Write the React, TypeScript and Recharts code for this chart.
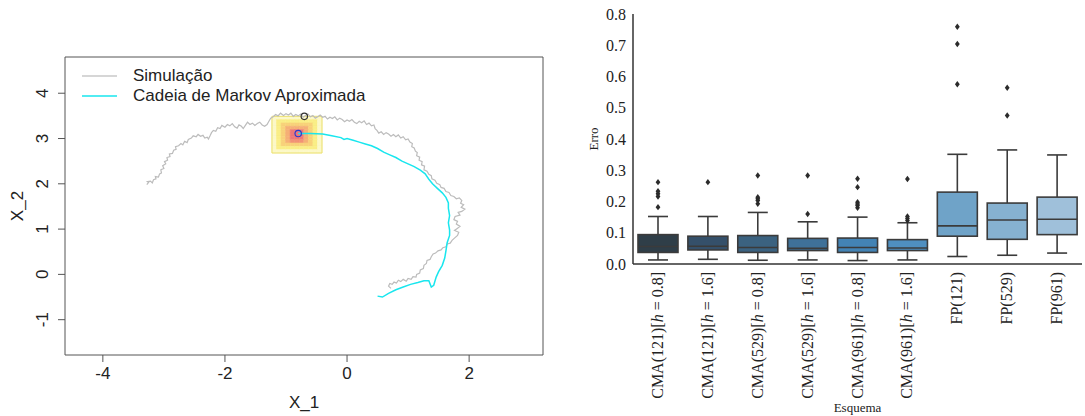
import {
  ScatterChart,
  Scatter,
  ComposedChart,
  Bar,
  Cell,
  XAxis,
  YAxis,
  ReferenceArea,
  ReferenceDot,
  Legend,
} from "recharts";

const SANS = "'Liberation Sans', Arial, sans-serif";
const SERIF = "'Liberation Serif', 'Times New Roman', serif";

// ---------- left panel: trajectories ----------
const X1_TICKS = [-4, -2, 0, 2];
const X2_TICKS = [-1, 0, 1, 2, 3, 4];
const X1_DOMAIN = [-4.62, 3.21];
const X2_DOMAIN = [-1.78, 4.8];

const SIMULATION: [number, number][] = [
  [-3.28, 1.98], [-3.25, 2.03], [-3.27, 2.05], [-3.22, 2.06], [-3.19, 2.02], [-3.17, 2.09],
  [-3.13, 2.11], [-3.14, 2.16], [-3.09, 2.15], [-3.07, 2.22], [-3.04, 2.24], [-3.05, 2.31],
  [-3.0, 2.34], [-3.02, 2.4], [-2.97, 2.44], [-2.99, 2.49], [-2.94, 2.52], [-2.95, 2.58],
  [-2.9, 2.6], [-2.91, 2.66], [-2.86, 2.67], [-2.84, 2.74], [-2.8, 2.76], [-2.81, 2.82],
  [-2.76, 2.84], [-2.72, 2.89], [-2.69, 2.86], [-2.66, 2.94], [-2.62, 2.91], [-2.6, 2.98],
  [-2.55, 3.01], [-2.52, 3.06], [-2.47, 3.04], [-2.44, 3.09], [-2.4, 3.05], [-2.36, 3.07],
  [-2.33, 3.01], [-2.29, 3.03], [-2.27, 2.99], [-2.24, 3.07], [-2.22, 3.13], [-2.19, 3.18],
  [-2.15, 3.16], [-2.12, 3.24], [-2.08, 3.22], [-2.05, 3.29], [-2.0, 3.25], [-1.96, 3.31],
  [-1.92, 3.28], [-1.88, 3.33], [-1.84, 3.26], [-1.8, 3.23], [-1.77, 3.3], [-1.73, 3.27],
  [-1.7, 3.22], [-1.66, 3.3], [-1.63, 3.36], [-1.59, 3.31], [-1.55, 3.34], [-1.51, 3.29],
  [-1.47, 3.33], [-1.43, 3.36], [-1.39, 3.3], [-1.35, 3.27], [-1.31, 3.31], [-1.28, 3.38],
  [-1.25, 3.45], [-1.21, 3.48], [-1.17, 3.53], [-1.13, 3.5], [-1.09, 3.56], [-1.04, 3.51],
  [-1.0, 3.55], [-0.96, 3.52], [-0.92, 3.56], [-0.88, 3.49], [-0.84, 3.53], [-0.8, 3.5],
  [-0.76, 3.54], [-0.72, 3.47], [-0.68, 3.51], [-0.64, 3.54], [-0.6, 3.48], [-0.56, 3.51],
  [-0.52, 3.45], [-0.48, 3.48], [-0.44, 3.52], [-0.4, 3.47], [-0.36, 3.49], [-0.32, 3.43],
  [-0.28, 3.47], [-0.24, 3.44], [-0.2, 3.48], [-0.16, 3.41], [-0.12, 3.45], [-0.08, 3.42],
  [-0.04, 3.37], [0.0, 3.41], [0.04, 3.38], [0.08, 3.42], [0.12, 3.36], [0.16, 3.33],
  [0.2, 3.38], [0.24, 3.35], [0.28, 3.39], [0.32, 3.31], [0.36, 3.34], [0.4, 3.28],
  [0.44, 3.3], [0.46, 3.22], [0.49, 3.18], [0.52, 3.12], [0.56, 3.15], [0.6, 3.09],
  [0.64, 3.13], [0.68, 3.1], [0.72, 3.05], [0.76, 3.09], [0.8, 3.04], [0.84, 3.08],
  [0.88, 3.01], [0.92, 3.04], [0.96, 2.97], [1.0, 2.99], [1.03, 2.92], [1.07, 2.89],
  [1.06, 2.82], [1.1, 2.79], [1.12, 2.72], [1.15, 2.69], [1.14, 2.62], [1.19, 2.59],
  [1.18, 2.52], [1.23, 2.49], [1.22, 2.42], [1.27, 2.39], [1.26, 2.31], [1.31, 2.28],
  [1.34, 2.21], [1.38, 2.18], [1.39, 2.11], [1.44, 2.08], [1.47, 2.01], [1.52, 1.98],
  [1.54, 1.92], [1.59, 1.9], [1.62, 1.83], [1.67, 1.81], [1.7, 1.74], [1.75, 1.72],
  [1.79, 1.67], [1.84, 1.69], [1.88, 1.63], [1.86, 1.57], [1.91, 1.54], [1.87, 1.48],
  [1.93, 1.44], [1.88, 1.39], [1.82, 1.37], [1.85, 1.31], [1.77, 1.28], [1.75, 1.21],
  [1.81, 1.17], [1.79, 1.11], [1.85, 1.06], [1.8, 1.01], [1.76, 0.97], [1.83, 0.93],
  [1.81, 0.86], [1.76, 0.8], [1.72, 0.75], [1.69, 0.69], [1.64, 0.67], [1.62, 0.61],
  [1.57, 0.59], [1.54, 0.54], [1.49, 0.52], [1.45, 0.47], [1.41, 0.45], [1.38, 0.39],
  [1.36, 0.33], [1.31, 0.31], [1.3, 0.24], [1.26, 0.2], [1.25, 0.13], [1.2, 0.1],
  [1.19, 0.03], [1.14, 0.0], [1.13, -0.06], [1.08, -0.05], [1.05, -0.11], [1.0, -0.09],
  [0.97, -0.15], [0.92, -0.11], [0.88, -0.16], [0.84, -0.13], [0.81, -0.19], [0.77, -0.17],
  [0.74, -0.22], [0.7, -0.2], [0.68, -0.26], [0.72, -0.31],
];

const MARKOV_CHAIN: [number, number][] = [
  [-0.8, 3.11], [-0.6, 3.11], [-0.4, 3.1], [-0.25, 3.06], [-0.1, 3.02], [-0.05, 2.98],
  [0.0, 3.0], [0.1, 2.96], [0.2, 2.92], [0.3, 2.88], [0.4, 2.84], [0.5, 2.78],
  [0.6, 2.7], [0.7, 2.64], [0.8, 2.58], [0.9, 2.5], [1.0, 2.44], [1.1, 2.38],
  [1.2, 2.3], [1.28, 2.22], [1.34, 2.1], [1.4, 2.0], [1.48, 1.9], [1.56, 1.8],
  [1.62, 1.7], [1.66, 1.58], [1.66, 1.46], [1.68, 1.3], [1.66, 1.14], [1.68, 0.98],
  [1.68, 0.86], [1.64, 0.7], [1.62, 0.52], [1.6, 0.36], [1.56, 0.2], [1.5, 0.06],
  [1.46, -0.06], [1.42, -0.24], [1.38, -0.28], [1.34, -0.14], [1.26, -0.14], [1.16, -0.18],
  [1.04, -0.22], [0.92, -0.28], [0.8, -0.34], [0.68, -0.42], [0.58, -0.5], [0.5, -0.48],
];

const START_POINT = [-0.8, 3.11];
const TRUE_POINT = [-0.7, 3.49];

// 11 x 11 grid of the initial density (row 0 = top)
const HEAT_X = [-1.23, -0.41];
const HEAT_Y = [2.68, 3.49];
const HEAT_LEVELS = [
  [0, 0, 0, 0, 0, 0, 0, 0, 0, 0, 0],
  [0, 1, 1, 1, 1, 1, 1, 1, 1, 1, 0],
  [0, 1, 2, 2, 2, 2, 2, 2, 2, 1, 0],
  [0, 1, 2, 3, 3, 3, 3, 3, 2, 1, 0],
  [0, 1, 2, 3, 5, 5, 5, 3, 2, 1, 0],
  [0, 1, 2, 3, 5, 5, 5, 3, 2, 1, 0],
  [0, 1, 2, 3, 5, 5, 5, 3, 2, 1, 0],
  [0, 1, 2, 3, 4, 4, 4, 3, 2, 1, 0],
  [0, 1, 2, 2, 2, 2, 2, 2, 2, 1, 0],
  [0, 1, 1, 1, 1, 1, 1, 1, 1, 1, 0],
  [0, 0, 0, 0, 0, 0, 0, 0, 0, 0, 0],
];
const HEAT_COLORS = ["#fcf8c8", "#faee86", "#f8d27a", "#f5b076", "#f29276", "#ee7878"];

const LEGEND_ITEMS = [
  { label: "Simulação", color: "#c8c8c8" },
  { label: "Cadeia de Markov Aproximada", color: "#19e6ee" },
];

// ---------- right panel: boxplots ----------
const SCHEMES = [
  "CMA(121)[h = 0.8]",
  "CMA(121)[h = 1.6]",
  "CMA(529)[h = 0.8]",
  "CMA(529)[h = 1.6]",
  "CMA(961)[h = 0.8]",
  "CMA(961)[h = 1.6]",
  "FP(121)",
  "FP(529)",
  "FP(961)",
];
const WHISKER_LOW = [0.013, 0.015, 0.012, 0.013, 0.011, 0.013, 0.024, 0.028, 0.035];
const Q1 = [0.037, 0.045, 0.037, 0.043, 0.037, 0.043, 0.089, 0.079, 0.094];
const MEDIAN = [0.056, 0.057, 0.053, 0.05, 0.053, 0.051, 0.122, 0.141, 0.143];
const Q3 = [0.094, 0.089, 0.091, 0.082, 0.083, 0.078, 0.23, 0.195, 0.214];
const WHISKER_HIGH = [0.152, 0.152, 0.165, 0.135, 0.15, 0.132, 0.351, 0.365, 0.349];
const OUTLIERS = [
  [0.182, 0.216, 0.225, 0.233, 0.262],
  [0.262],
  [0.193, 0.203, 0.209, 0.214, 0.283],
  [0.16, 0.283],
  [0.18, 0.187, 0.192, 0.198, 0.246, 0.273],
  [0.139, 0.146, 0.152, 0.272],
  [0.575, 0.704, 0.759],
  [0.475, 0.564],
  [],
];
const ERRO_TICKS = [0, 0.1, 0.2, 0.3, 0.4, 0.5, 0.6, 0.7, 0.8];
const BOX_COLORS = ["#2f3e48", "#35506a", "#3b6280", "#3f7199", "#4383b4", "#4f8fc0", "#6fa3c8", "#86b1d0", "#9fc0da"];

const simData = SIMULATION.map(([x, y]) => ({ x, y }));
const chainData = MARKOV_CHAIN.map(([x, y]) => ({ x, y }));

const cellW = (HEAT_X[1] - HEAT_X[0]) / HEAT_LEVELS[0].length;
const cellH = (HEAT_Y[1] - HEAT_Y[0]) / HEAT_LEVELS.length;
const heatCells = HEAT_LEVELS.flatMap((row, r) =>
  row.map((level, c) => ({
    x1: HEAT_X[0] + c * cellW,
    x2: HEAT_X[0] + (c + 1) * cellW,
    y1: HEAT_Y[1] - (r + 1) * cellH,
    y2: HEAT_Y[1] - r * cellH,
    level,
  }))
);

const boxData = SCHEMES.map((name, i) => ({
  name,
  range: [WHISKER_LOW[i], WHISKER_HIGH[i]],
  low: WHISKER_LOW[i],
  q1: Q1[i],
  median: MEDIAN[i],
  q3: Q3[i],
  high: WHISKER_HIGH[i],
  outliers: OUTLIERS[i],
}));

const noPoint = () => <g />;

const RotatedNumTick = ({ x, y, payload }: any) => (
  <text
    x={x - 8}
    y={y}
    transform={`rotate(-90, ${x - 8}, ${y})`}
    textAnchor="middle"
    fontSize={17}
    fontFamily={SANS}
    fill="#222"
  >
    {payload.value}
  </text>
);

const SchemeTick = ({ x, y, payload }: any) => {
  const label: string = payload.value;
  const m = label.match(/^(.*)\[h = (.*)\]$/);
  const bx = x + 5;
  return (
    <text
      x={bx}
      y={y}
      transform={`rotate(-90, ${bx}, ${y})`}
      textAnchor="end"
      fontSize={16}
      fontFamily={SERIF}
      fill="#222"
    >
      {m ? (
        <>
          {m[1]}[<tspan fontStyle="italic">h</tspan> = {m[2]}]
        </>
      ) : (
        label
      )}
    </text>
  );
};

const BoxShape = (props: any) => {
  const { x, y, width, height, payload, fill } = props;
  const top = Math.min(y, y + height);
  const bottom = Math.max(y, y + height);
  const { low, high, q1, median, q3, outliers } = payload;
  const py = (v: number) => bottom - ((v - low) / (high - low)) * (bottom - top);
  const cx = x + width / 2;
  const cap = width / 4;
  const edge = "#3b3b3b";
  return (
    <g>
      <line x1={cx} x2={cx} y1={py(high)} y2={py(q3)} stroke={edge} strokeWidth={1.6} />
      <line x1={cx} x2={cx} y1={py(q1)} y2={py(low)} stroke={edge} strokeWidth={1.6} />
      <line x1={cx - cap} x2={cx + cap} y1={py(high)} y2={py(high)} stroke={edge} strokeWidth={1.6} />
      <line x1={cx - cap} x2={cx + cap} y1={py(low)} y2={py(low)} stroke={edge} strokeWidth={1.6} />
      <rect x={x} y={py(q3)} width={width} height={py(q1) - py(q3)} fill={fill} stroke={edge} strokeWidth={1.6} />
      <line x1={x} x2={x + width} y1={py(median)} y2={py(median)} stroke={edge} strokeWidth={1.6} />
      {outliers.map((o: number, k: number) => {
        const oy = py(o);
        return (
          <polygon
            key={k}
            points={`${cx},${oy - 3.2} ${cx + 2.4},${oy} ${cx},${oy + 3.2} ${cx - 2.4},${oy}`}
            fill="#2b2b2b"
          />
        );
      })}
    </g>
  );
};

const renderLegend = () => (
  <div style={{ fontFamily: SANS, fontSize: 17, color: "#222" }}>
    {LEGEND_ITEMS.map((item) => (
      <div key={item.label} style={{ display: "flex", alignItems: "center", height: 20 }}>
        <svg width={35} height={4} style={{ marginRight: 16 }}>
          <line x1={0} x2={35} y1={2} y2={2} stroke={item.color} strokeWidth={1.5} />
        </svg>
        <span>{item.label}</span>
      </div>
    ))}
  </div>
);

export default function App() {
  return (
    <div style={{ position: "absolute", left: 0, top: 0, width: 1085, height: 416, background: "#fff" }}>
      <div style={{ position: "absolute", left: 0, top: 0 }}>
        <ScatterChart width={560} height={416} margin={{ top: 57, right: 17, bottom: 0, left: 0 }}>
          <XAxis
            type="number"
            dataKey="x"
            domain={X1_DOMAIN}
            ticks={X1_TICKS}
            allowDataOverflow
            height={61}
            axisLine={false}
            tickLine={{ stroke: "#555" }}
            tickSize={7}
            tickMargin={5}
            tick={{ fontSize: 17, fontFamily: SANS, fill: "#222" }}
            label={({ viewBox }: any) => (
              <text
                x={viewBox.x + viewBox.width / 2}
                y={viewBox.y + 53}
                textAnchor="middle"
                fontSize={17}
                fontFamily={SANS}
                fill="#222"
              >
                X_1
              </text>
            )}
          />
          <YAxis
            type="number"
            dataKey="y"
            domain={X2_DOMAIN}
            ticks={X2_TICKS}
            allowDataOverflow
            width={65}
            axisLine={false}
            tickLine={{ stroke: "#555" }}
            tickSize={7}
            tickMargin={2}
            tick={<RotatedNumTick />}
            label={({ viewBox }: any) => {
              const lx = viewBox.x + 23;
              const ly = viewBox.y + viewBox.height / 2;
              return (
                <text
                  x={lx}
                  y={ly}
                  transform={`rotate(-90, ${lx}, ${ly})`}
                  textAnchor="middle"
                  fontSize={17}
                  fontFamily={SANS}
                  fill="#222"
                >
                  X_2
                </text>
              );
            }}
          />
          {heatCells.map((c, i) => (
            <ReferenceArea
              key={`h${i}`}
              x1={c.x1}
              x2={c.x2}
              y1={c.y1}
              y2={c.y2}
              fill={HEAT_COLORS[c.level]}
              fillOpacity={1}
              stroke={HEAT_COLORS[c.level]}
              strokeWidth={0.6}
            />
          ))}
          <ReferenceArea
            x1={HEAT_X[0]}
            x2={HEAT_X[1]}
            y1={HEAT_Y[0]}
            y2={HEAT_Y[1]}
            fill="none"
            stroke="#ebe06c"
            strokeWidth={1}
          />
          <Scatter
            data={simData}
            line={{ stroke: "#bcbcbc", strokeWidth: 1.2 }}
            lineType="joint"
            shape={noPoint}
            isAnimationActive={false}
          />
          <Scatter
            data={chainData}
            line={{ stroke: "#19e6ee", strokeWidth: 1.5 }}
            lineType="joint"
            shape={noPoint}
            isAnimationActive={false}
          />
          <ReferenceDot x={START_POINT[0]} y={START_POINT[1]} r={3.2} fill="none" stroke="#2a3ad0" strokeWidth={1.2} />
          <ReferenceDot x={TRUE_POINT[0]} y={TRUE_POINT[1]} r={3.2} fill="none" stroke="#333" strokeWidth={1.2} />
          <ReferenceArea
            x1={X1_DOMAIN[0]}
            x2={X1_DOMAIN[1]}
            y1={X2_DOMAIN[0]}
            y2={X2_DOMAIN[1]}
            fill="none"
            stroke="#555"
            strokeWidth={1}
          />
          <Legend
            content={renderLegend}
            layout="vertical"
            align="center"
            verticalAlign="middle"
            wrapperStyle={{ left: 82, top: 66, width: 320, height: 40 }}
          />
        </ScatterChart>
      </div>
      <div style={{ position: "absolute", left: 560, top: 0 }}>
        <ComposedChart width={525} height={416} data={boxData} margin={{ top: 14, right: 3, bottom: 0, left: 0 }}>
          <XAxis
            dataKey="name"
            height={152}
            axisLine={{ stroke: "#333", strokeWidth: 1.5 }}
            tickLine={false}
            tickSize={6}
            tickMargin={2}
            interval={0}
            tick={<SchemeTick />}
            label={({ viewBox }: any) => (
              <text
                x={viewBox.x + viewBox.width / 2}
                y={viewBox.y + 148}
                textAnchor="middle"
                fontSize={13}
                fontFamily={SERIF}
                fill="#222"
              >
                Esquema
              </text>
            )}
          />
          <YAxis
            type="number"
            domain={[0, 0.8]}
            ticks={ERRO_TICKS}
            width={73}
            axisLine={{ stroke: "#333", strokeWidth: 1.5 }}
            tickLine={false}
            tickSize={5}
            tickMargin={2}
            tickFormatter={(v: number) => v.toFixed(1)}
            tick={{ fontSize: 16, fontFamily: SERIF, fill: "#222" }}
            label={({ viewBox }: any) => {
              const lx = viewBox.x + 38;
              const ly = viewBox.y + viewBox.height / 2;
              return (
                <text
                  x={lx}
                  y={ly}
                  transform={`rotate(-90, ${lx}, ${ly})`}
                  textAnchor="middle"
                  fontSize={13}
                  fontFamily={SERIF}
                  fill="#222"
                >
                  Erro
                </text>
              );
            }}
          />
          <Bar dataKey="range" barSize={40} shape={<BoxShape />} isAnimationActive={false}>
            {SCHEMES.map((s, i) => (
              <Cell key={s} fill={BOX_COLORS[i]} />
            ))}
          </Bar>
        </ComposedChart>
      </div>
    </div>
  );
}
